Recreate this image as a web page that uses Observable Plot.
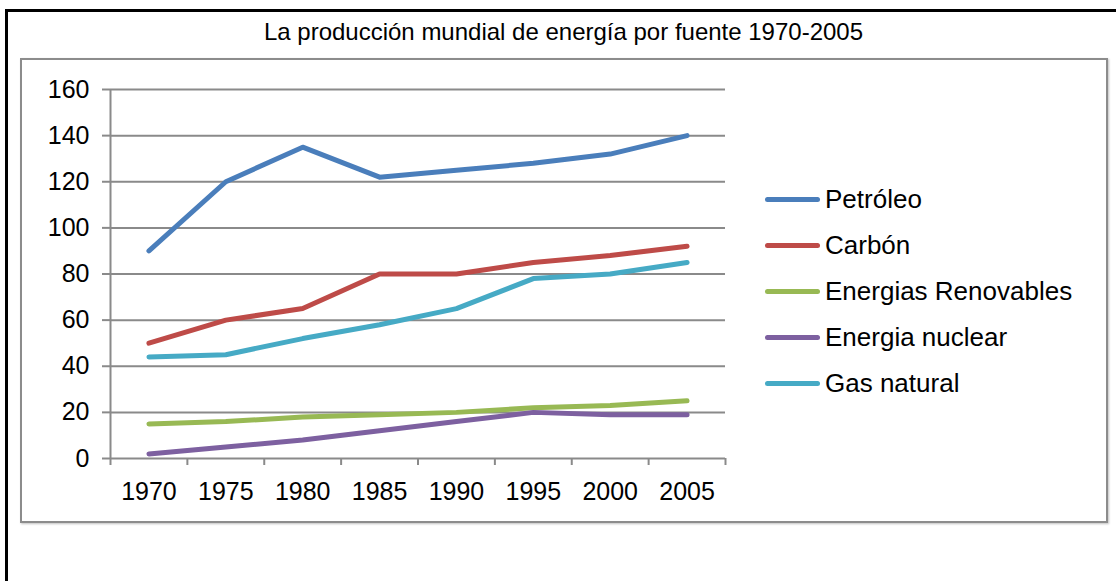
<!DOCTYPE html>
<html>
<head>
<meta charset="utf-8">
<script src="https://cdn.jsdelivr.net/npm/d3@7"></script>
<script src="https://cdn.jsdelivr.net/npm/@observablehq/plot@0.6"></script>
<style>
  html, body { margin: 0; padding: 0; background: #fff; }
  body { width: 1116px; height: 581px; overflow: hidden; font-family: "Liberation Sans", Arial, sans-serif; }
  #wrap { position: relative; width: 1116px; height: 581px; }
  #outer { position: absolute; left: 5px; top: 9px; width: 1200px; height: 700px; border-left: 3px solid #000; border-top: 3px solid #000; }
  #inner { position: absolute; left: 20px; top: 58px; width: 1084px; height: 461px; border: 2px solid #8c8c8c; box-shadow: 1px 1px 2px rgba(0,0,0,0.25); }
  #title { position: absolute; left: 0; top: 20px; width: 1127px; text-align: center; font-size: 24px; line-height: 24px; color: #000; }
  #chart { position: absolute; left: 0; top: 0; }
  #legend { position: absolute; left: 765px; top: 176px; }
  .row { display: flex; align-items: center; height: 46px; font-size: 26px; color: #000; }
  .sw { width: 55px; height: 5px; border-radius: 3px; margin-right: 5px; }
</style>
</head>
<body>
<div id="wrap">
  <div id="outer"></div>
  <div id="inner"></div>
  <div id="title"></div>
  <div id="chart"></div>
  <div id="legend"></div>
</div>
<script>
const titleText = "La producción mundial de energía por fuente 1970-2005";
const years = [1970, 1975, 1980, 1985, 1990, 1995, 2000, 2005];
const seriesNames = ["Petróleo", "Carbón", "Energias Renovables", "Energia nuclear", "Gas natural"];
const petroleo   = [90, 120, 135, 122, 125, 128, 132, 140];
const carbon     = [50, 60, 65, 80, 80, 85, 88, 92];
const renovables = [15, 16, 18, 19, 20, 22, 23, 25];
const nuclear    = [2, 5, 8, 12, 16, 20, 19, 19];
const gas        = [44, 45, 52, 58, 65, 78, 80, 85];
const yTicks = [0, 20, 40, 60, 80, 100, 120, 140, 160];
const colors = ["#4a7ebb", "#be4b48", "#98b954", "#7d60a0", "#46aac5"];

const seriesValues = [petroleo, carbon, renovables, nuclear, gas];
const data = seriesNames.flatMap((s, i) => years.map((yr, j) => ({series: s, year: yr, value: seriesValues[i][j]})));

// category boundaries (years are centered in 5-year bands)
const half = (years[1] - years[0]) / 2;
const xDomain = [years[0] - half, years[years.length - 1] + half];
const boundaries = years.map(y => y - half).concat([years[years.length - 1] + half]);

document.getElementById("title").textContent = titleText;

const gridColor = "#8a8a8a";
const plot = Plot.plot({
  width: 1116,
  height: 581,
  marginLeft: 110,
  marginRight: 391,
  marginTop: 89,
  marginBottom: 123,
  style: {fontFamily: "'Liberation Sans', Arial, sans-serif", fontSize: "25px", color: "#000", background: "transparent", overflow: "visible"},
  x: {type: "linear", domain: xDomain},
  y: {domain: [0, 160]},
  color: {domain: seriesNames, range: colors},
  marks: [
    Plot.ruleY(yTicks.slice(1), {stroke: gridColor, strokeWidth: 2}),
    Plot.ruleY([0], {stroke: gridColor, strokeWidth: 2}),
    Plot.ruleX([xDomain[0]], {y1: 0, y2: 160, stroke: gridColor, strokeWidth: 2}),
    Plot.axisY({ticks: yTicks, tickSize: 8, tickPadding: 13, stroke: gridColor, strokeWidth: 2, tickFormat: d => String(d), label: null, fill: "#000"}),
    Plot.axisX({ticks: boundaries, tickSize: 7, tickFormat: () => "", stroke: gridColor, strokeWidth: 2, label: null}),
    Plot.axisX({ticks: years, tickSize: 0, tickPadding: 24, tickFormat: d => String(d), label: null, fill: "#000"}),
    Plot.line(data, {x: "year", y: "value", stroke: "series", z: "series", strokeWidth: 5, strokeLinecap: "round", strokeLinejoin: "round"})
  ]
});
document.getElementById("chart").appendChild(plot);

const legend = document.getElementById("legend");
seriesNames.forEach((s, i) => {
  const row = document.createElement("div");
  row.className = "row";
  const sw = document.createElement("div");
  sw.className = "sw";
  sw.style.background = colors[i];
  const t = document.createElement("span");
  t.textContent = s;
  row.appendChild(sw);
  row.appendChild(t);
  legend.appendChild(row);
});
</script>
</body>
</html>
